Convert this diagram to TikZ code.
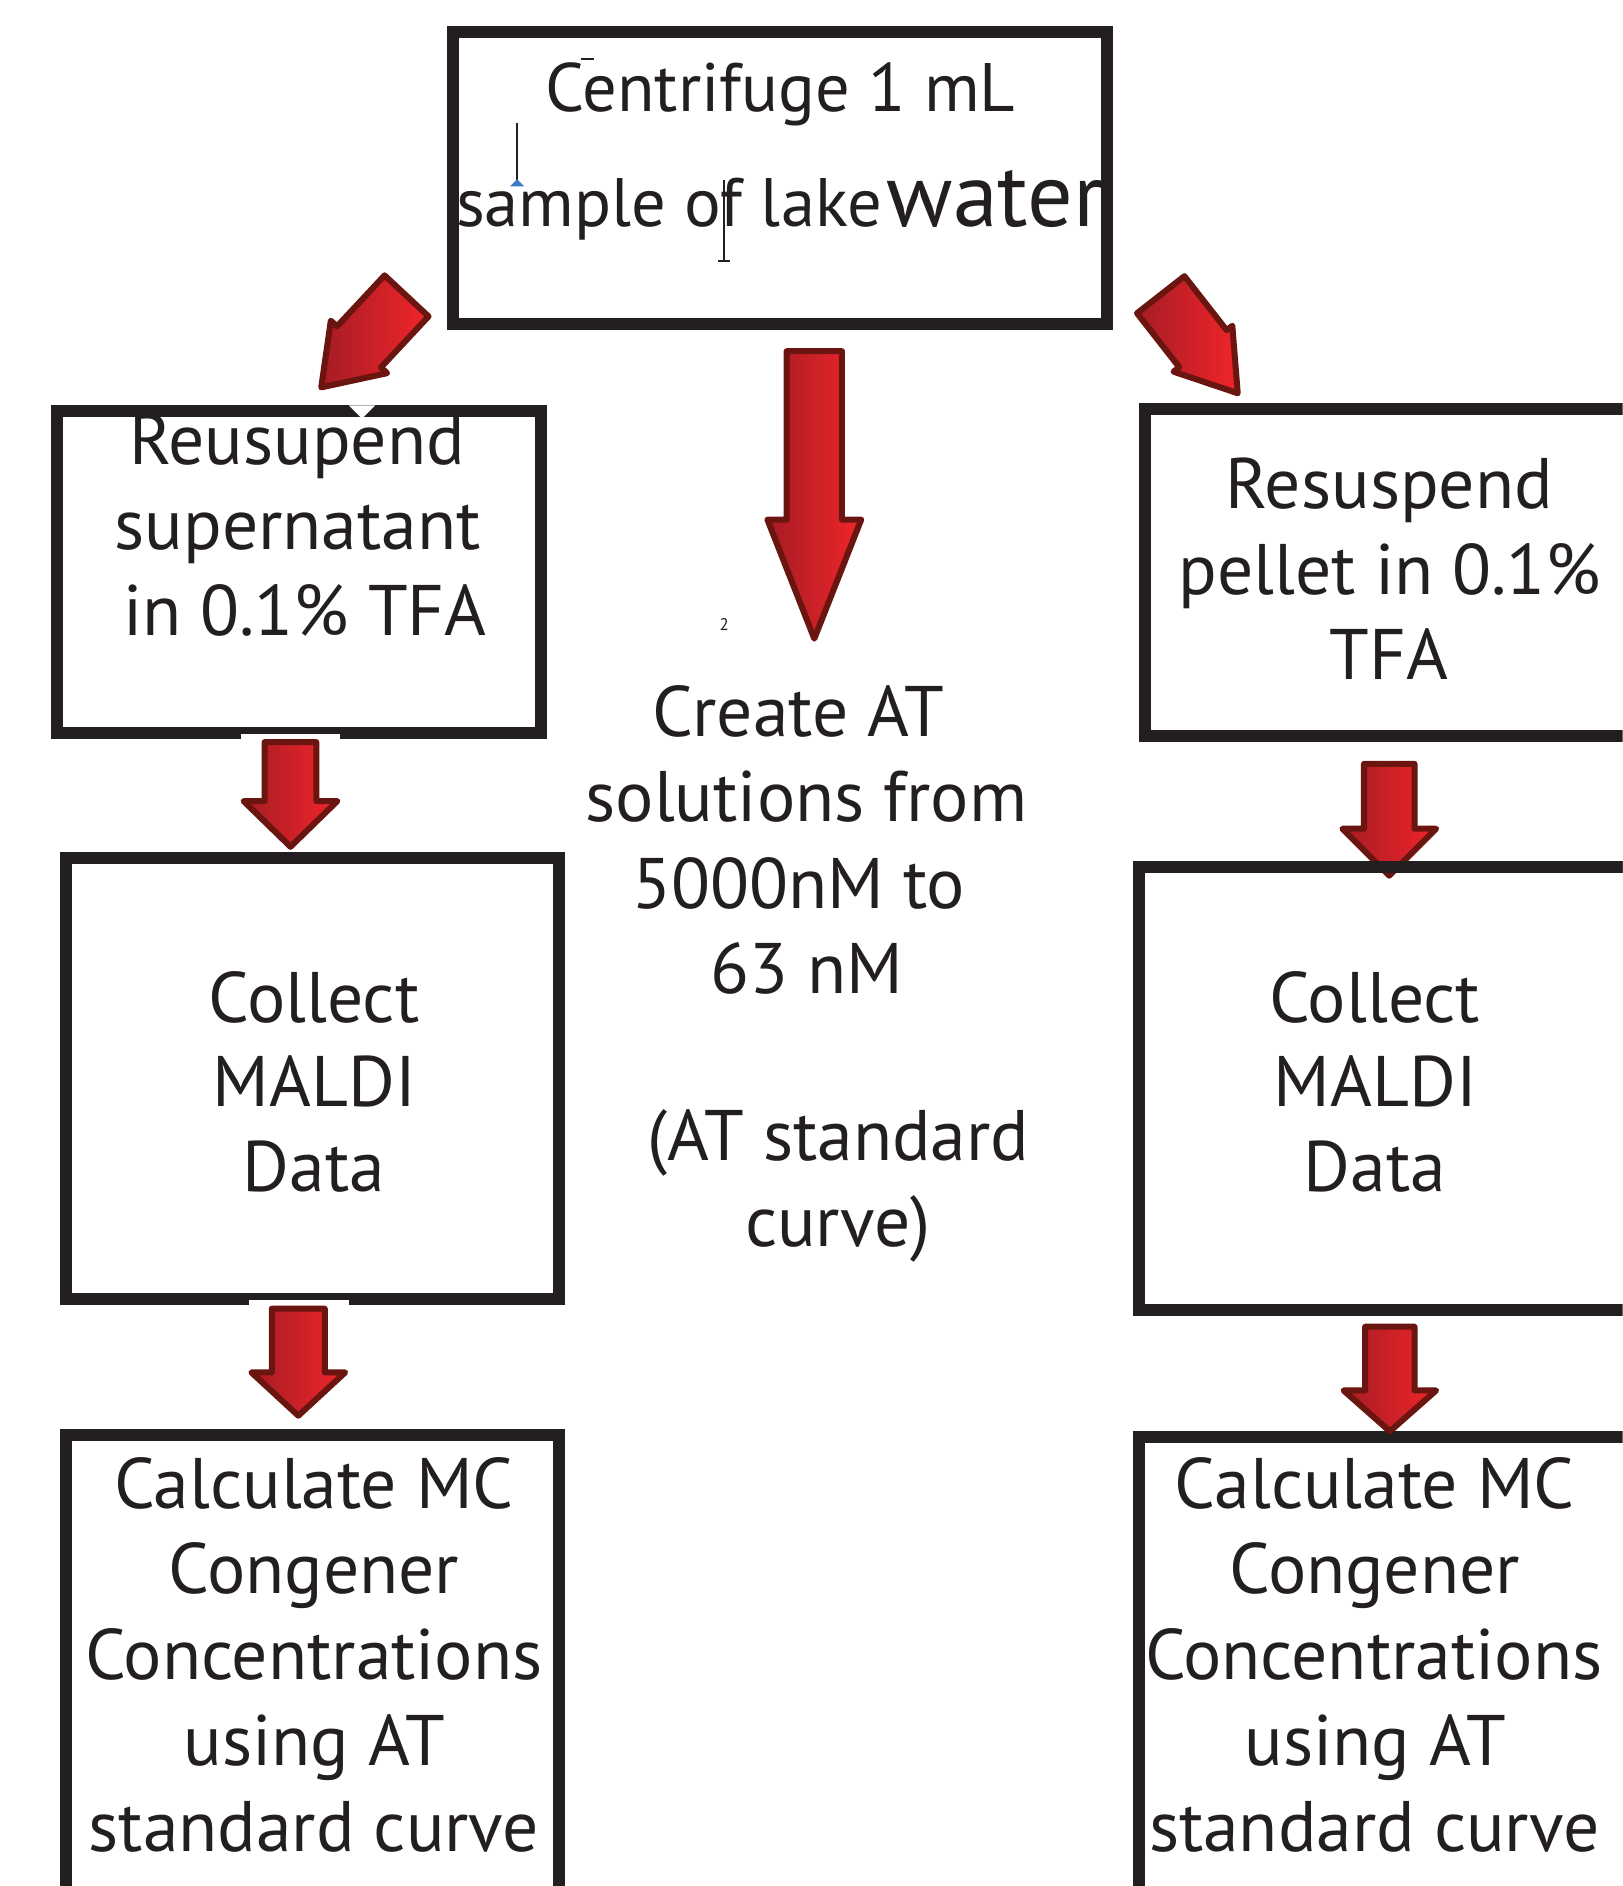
\documentclass[tikz,border=0pt]{standalone}
\usepackage{fontspec}
\setmainfont{PT Sans}
\definecolor{boxline}{HTML}{231F20}
\definecolor{arrowedge}{HTML}{6B1510}
\definecolor{arrowlight}{HTML}{F0252A}
\definecolor{arrowdark}{HTML}{A61C24}
\definecolor{cursorblue}{HTML}{3C7CC4}
\tikzset{
  stepbox/.style={draw=boxline, line width=10pt, rectangle, inner sep=0pt, fill=none},
  txt/.style={anchor=base, inner sep=0pt, text=boxline, font=\fontsize{59.5}{71.5}\selectfont},
  blockarrow/.style={draw=arrowedge, line width=5pt, line join=round,
    left color=arrowdark, right color=arrowlight},
}
% block arrow: tail centre (#1,#2), rotation #3, shaft half width #4,
% head half width #5, shaft length #6, head length #7
\newcommand\blockarrow[7]{%
  \begin{scope}[shift={(#1,#2)}, rotate=#3]
    \path[blockarrow] (-#4,0) -- (#4,0) -- (#4,#6) -- (#5,#6) -- (0,#6+#7)
      -- (-#5,#6) -- (-#4,#6) -- cycle;
  \end{scope}}
\begin{document}
\begin{tikzpicture}[x=1pt,y=-1pt]
\useasboundingbox (0,0) rectangle (1349,1568);
\fill[white] (0,0) rectangle (1349,1568);
\begin{scope}
\clip (0,0) rectangle (1349,1568);

% boxes
\node[stepbox, minimum width=543pt, minimum height=242pt] (top) at (648.5,148) {};
\node[stepbox, minimum width=403pt, minimum height=267pt] (l1) at (248.5,475.5) {};
\node[stepbox, minimum width=410pt, minimum height=367pt] (l2) at (260,896.5) {};
\node[stepbox, minimum width=410pt, minimum height=420pt] (l3) at (260,1403) {};
\node[stepbox, minimum width=460pt, minimum height=272pt] (r1) at (1182,476) {};
\node[stepbox, minimum width=460pt, minimum height=368pt] (r2) at (1177,905) {};
\node[stepbox, minimum width=460pt, minimum height=420pt] (r3) at (1177,1405) {};

% white backing of the arrows where they cross box edges
\fill[white] (200,610) rectangle (283,620);
\fill[white] (207,1081) rectangle (290,1091);
\fill[white] (290,337) -- (312,337) -- (301,348) -- cycle;

% block arrows
\blockarrow{338}{246}{-43}{25}{32}{58}{46}
\blockarrow{965}{245}{38}{25}{31}{57}{47}
\blockarrow{677}{292}{0}{23}{39}{140}{99}
\blockarrow{241.5}{617}{0}{21.5}{39}{49}{38}
\blockarrow{248}{1088}{0}{22}{39}{53}{36}
\blockarrow{1155}{635}{0}{21}{39}{54}{39}
\blockarrow{1155.5}{1103}{0}{20.5}{38.5}{53}{34}

% box edges lying over the arrow tips
\draw[boxline, line width=10pt] (947,721) -- (1400,721);
\draw[boxline, line width=10pt] (55,713) -- (465,713);

% top box text
\node[txt, font=\fontsize{57}{60}\selectfont] (c1) at (649,93) {Centrifuge 1 mL};
\node[txt, anchor=base west, font=\fontsize{57}{60}\selectfont] (c2) at (379,188.5) {sample of lake};
\node[txt, anchor=base west, font=\fontsize{75}{80}\selectfont] (c3) at (737,188.5) {water};
% editing cursor marks
\draw[boxline, line width=1.5pt] (483,49) -- (494,49);
\draw[boxline, line width=1.8pt] (430,102) -- (430,151);
\fill[cursorblue] (424,155) -- (436,155) -- (430,149) -- cycle;
\draw[boxline, line width=1.8pt] (602,150) -- (602,217) (597,217) -- (607,217);

\node[txt, font=\fontsize{14}{16}\selectfont] (two) at (602,524) {2};

% centre text
\node[txt] (m1) at (664,612) {Create AT};
\node[txt] (m2) at (670.5,683) {solutions from};
\node[txt] (m3) at (664,755) {5000nM to};
\node[txt] (m4) at (670.5,826) {63 nM};
\node[txt] (m5) at (697,965) {(AT standard};
\node[txt] (m6) at (696.5,1036) {curve)};

% left column
\node[txt] (a1) at (247,386) {Reusupend};
\node[txt] (a2) at (247.5,457) {supernatant};
\node[txt] (a3) at (253.5,528) {in 0.1\% TFA};
\node[txt] (b1) at (261,850) {Collect};
\node[txt] (b2) at (261.5,920) {MALDI};
\node[txt] (b3) at (261,991) {Data};
\node[txt] (d1) at (261,1254) {Calculate MC};
\node[txt] (d2) at (261,1325) {Congener};
\node[txt] (d3) at (261,1396) {Concentrations};
\node[txt] (d4) at (261.5,1468) {using AT};
\node[txt] (d5) at (261,1539) {standard curve};

% right column
\node[txt] (e1) at (1155,423) {Resuspend};
\node[txt] (e2) at (1155.5,494) {pellet in 0.1\%};
\node[txt] (e3) at (1154.5,565) {TFA};
\node[txt] (f1) at (1143,850) {Collect};
\node[txt] (f2) at (1143.5,920) {MALDI};
\node[txt] (f3) at (1143,991) {Data};
\node[txt] (g1) at (1143,1254) {Calculate MC};
\node[txt] (g2) at (1143,1325) {Congener};
\node[txt] (g3) at (1142,1396) {Concentrations};
\node[txt] (g4) at (1143.5,1468) {using AT};
\node[txt] (g5) at (1142.5,1539) {standard curve};
\end{scope}
\end{tikzpicture}
\end{document}
